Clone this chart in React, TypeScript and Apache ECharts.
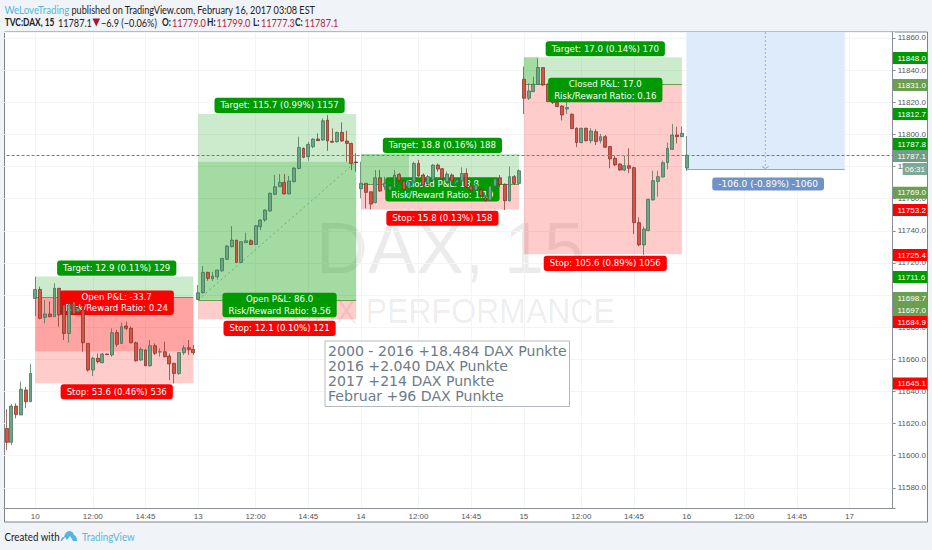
import React, { useEffect, useRef } from "react";
import * as echarts from "echarts";

const barCount = 186;
const tickBars = [6, 18, 29, 40, 52, 63, 74, 86, 97, 108, 120, 131, 142, 154, 165, 176];
const tickLabels = ["10", "12:00", "14:45", "13", "12:00", "14:45", "14", "12:00", "14:45", "15", "12:00", "14:45", "16", "12:00", "14:45", "17"];

// open, close, low, high
const candles: number[][] = [
  [11617.0,11608.3,11603.5,11629.0],[11608.3,11630.9,11606.6,11632.2],[11630.9,11625.7,11623.2,11632.6],[11625.3,11641.3,11625.3,11646.1],
  [11640.9,11633.6,11629.5,11642.9],[11633.6,11651.2,11633.6,11657.1],[11697.9,11703.5,11686.9,11711.4],[11703.5,11685.5,11684.9,11705.2],
  [11686.1,11688.2,11682.4,11696.9],[11688.2,11686.5,11686.1,11695.9],[11686.5,11704.2,11686.5,11707.3],[11704.2,11687.6,11680.3,11704.2],
  [11693.8,11676.1,11672.0,11696.9],[11676.1,11693.8,11670.3,11695.9],[11695.9,11688.2,11687.6,11697.3],[11689.6,11691.7,11689.0,11693.8],
  [11690.7,11670.3,11664.7,11694.8],[11669.9,11653.3,11652.3,11669.9],[11653.3,11660.6,11649.6,11661.6],[11660.6,11658.5,11657.5,11663.7],
  [11657.9,11663.3,11657.5,11664.1],[11663.3,11662.9,11662.7,11663.5],[11662.7,11676.6,11661.6,11679.3],[11676.6,11669.3,11667.8,11678.2],
  [11669.9,11680.3,11669.5,11682.8],[11680.7,11679.3,11678.2,11683.4],[11679.3,11670.3,11669.9,11680.3],[11670.3,11659.1,11658.5,11671.0],
  [11659.5,11666.2,11659.1,11667.4],[11665.8,11656.0,11655.8,11666.2],[11656.0,11668.5,11655.4,11672.0],[11668.5,11663.7,11662.7,11669.9],
  [11664.5,11664.7,11661.6,11666.8],[11664.7,11661.6,11661.2,11671.0],[11662.0,11657.1,11647.1,11663.7],[11657.5,11651.2,11645.0,11657.9],
  [11651.2,11664.3,11650.2,11664.3],[11664.1,11667.2,11662.7,11668.9],[11667.2,11666.2,11662.7,11672.0],[11666.2,11664.1,11662.7,11668.9],
  [11697.3,11701.4,11696.9,11706.2],[11701.4,11714.1,11701.0,11718.0],[11714.1,11710.4,11708.9,11714.5],[11710.2,11711.8,11708.9,11714.5],
  [11711.4,11715.6,11709.7,11715.6],[11715.1,11722.8,11714.5,11722.8],[11722.2,11730.5,11721.8,11731.1],[11730.1,11734.2,11729.7,11742.9],
  [11734.2,11720.3,11720.3,11734.2],[11720.3,11733.2,11720.1,11733.2],[11732.6,11733.8,11732.6,11738.8],[11733.8,11731.5,11731.1,11734.6],
  [11731.5,11743.1,11731.3,11743.6],[11742.5,11746.7,11740.4,11747.1],[11746.7,11752.9,11745.6,11753.3],[11752.3,11763.3,11751.9,11763.7],
  [11762.7,11767.4,11762.2,11774.7],[11767.4,11770.1,11767.4,11775.3],[11770.1,11762.9,11762.7,11775.3],[11762.9,11771.0,11762.7,11774.1],
  [11770.5,11779.0,11770.3,11779.5],[11778.8,11791.9,11778.2,11798.6],[11791.3,11785.7,11785.1,11791.9],[11786.1,11793.8,11783.6,11795.4],
  [11792.3,11797.1,11791.3,11797.5],[11797.1,11796.1,11795.9,11800.6],[11796.5,11808.5,11796.1,11810.0],[11808.9,11795.9,11789.8,11812.0],
  [11795.7,11795.1,11794.9,11803.7],[11795.4,11801.2,11794.9,11801.7],[11801.2,11795.9,11795.4,11807.5],[11795.9,11794.4,11783.0,11802.3],
  [11794.4,11781.9,11777.8,11794.8],[11782.8,11782.4,11776.8,11788.2],
  [11766.2,11769.5,11760.2,11783.0],[11769.5,11763.9,11753.9,11769.5],[11764.3,11756.6,11753.3,11764.3],[11757.5,11773.0,11757.1,11777.8],
  [11773.0,11764.7,11764.3,11777.8],[11767.4,11769.5,11765.3,11773.6],[11765.4,11767.8,11764.3,11771.6],[11767.0,11774.7,11766.4,11777.8],
  [11775.1,11771.2,11770.5,11776.1],[11771.0,11765.8,11764.3,11771.6],[11766.4,11770.5,11765.4,11771.6],[11770.5,11781.9,11769.5,11783.0],
  [11781.9,11774.1,11773.7,11784.0],[11774.7,11768.5,11767.4,11775.7],[11769.5,11773.7,11768.5,11774.7],[11771.6,11780.9,11771.2,11781.5],
  [11780.9,11778.4,11776.8,11781.9],[11778.6,11772.6,11772.0,11779.0],[11770.5,11775.3,11769.9,11776.8],[11774.7,11771.0,11768.5,11775.7],
  [11770.1,11771.6,11768.5,11772.6],[11771.0,11775.7,11770.5,11779.5],[11775.7,11767.4,11766.4,11778.8],[11767.8,11765.4,11764.3,11769.5],
  [11765.4,11768.5,11763.3,11770.5],[11765.4,11761.8,11761.2,11766.4],[11760.6,11758.7,11758.1,11762.2],[11759.1,11767.8,11758.7,11768.5],
  [11767.8,11772.2,11765.4,11772.6],[11773.0,11768.9,11767.4,11774.7],[11768.9,11758.7,11752.9,11769.5],[11758.7,11773.7,11758.1,11779.9],
  [11773.7,11769.5,11768.5,11774.7],[11769.5,11777.4,11768.9,11778.2],
  [11834.3,11822.5,11812.7,11842.2],[11822.5,11827.0,11821.4,11831.8],[11826.6,11831.2,11826.4,11835.9],[11831.2,11841.6,11830.8,11847.4],
  [11841.6,11830.8,11830.1,11841.6],[11831.2,11820.4,11820.2,11831.8],[11822.5,11819.8,11818.9,11823.5],[11819.8,11817.3,11816.9,11820.4],
  [11817.7,11812.1,11808.6,11818.1],[11815.8,11816.7,11812.7,11820.4],[11812.5,11803.6,11803.2,11813.1],[11803.8,11794.9,11792.0,11804.4],
  [11794.9,11803.8,11794.4,11804.2],[11803.8,11796.1,11795.5,11804.2],[11796.1,11802.1,11794.4,11803.8],[11801.7,11795.5,11793.4,11803.2],
  [11796.1,11798.6,11794.4,11800.3],[11798.6,11792.0,11791.5,11799.6],[11792.4,11784.7,11778.9,11792.8],[11785.1,11781.0,11780.3,11786.6],
  [11781.6,11777.8,11777.4,11782.0],[11777.8,11780.5,11777.0,11786.6],[11780.5,11778.9,11775.8,11791.3],[11779.3,11745.1,11738.0,11779.9],
  [11745.1,11731.2,11730.5,11748.4],[11731.2,11741.1,11724.9,11742.6],[11740.1,11759.6,11739.7,11760.0],[11759.2,11771.2,11758.7,11777.4],
  [11770.6,11773.7,11761.2,11777.4],[11773.5,11782.4,11773.1,11783.7],[11782.4,11791.3,11778.3,11794.9],[11790.7,11799.6,11790.3,11806.5],
  [11799.6,11798.6,11794.4,11804.8],[11798.6,11800.7,11798.2,11804.8],[11779.0,11787.1,11777.3,11799.0],
];

const boxStart = [6, 40, 74, 108];
const boxEnd = [39, 73, 107, 141];
const boxEntry = [11698.7, 11697.0, 11769.0, 11831.0];
const boxTarget = [11711.6, 11812.7, 11787.8, 11848.0];
const boxStop = [11645.1, 11684.9, 11753.2, 11725.4];
const boxPnl = [11665.0, 11783.0, 11787.8, 11848.0];
const boxPnlEnd = [39, 73, 84, 111];

const targetTexts = ["Target: 12.9 (0.11%) 129", "Target: 115.7 (0.99%) 1157", "Target: 18.8 (0.16%) 188", "Target: 17.0 (0.14%) 170"];
const stopTexts = ["Stop: 53.6 (0.46%) 536", "Stop: 12.1 (0.10%) 121", "Stop: 15.8 (0.13%) 158", "Stop: 105.6 (0.89%) 1056"];
const pnlTexts = [
  "Open P&L: -33.7\nRisk/Reward Ratio: 0.24",
  "Open P&L: 86.0\nRisk/Reward Ratio: 9.56",
  "Closed P&L: 18.8\nRisk/Reward Ratio: 1.19",
  "Closed P&L: 17.0\nRisk/Reward Ratio: 0.16",
];
const labelBar = [23, 57, 91, 125];
const targetLabelPrice = [11716.8, 11818.1, 11793.1, 11853.3];
const stopLabelPrice = [11639.8, 11679.3, 11747.8, 11719.7];
const pnlLabelPrice = [11695.2, 11693.8, 11765.8, 11827.6];

const lastPrice = 11787.1;
const forecastStart = 142;
const forecastEnd = 175;
const forecastBottom = 11778.3;
const forecastText = "-106.0 (-0.89%) -1060";

const priceTagText = ["11848.0", "11831.0", "11812.7", "11787.8", "11787.1", "11769.0", "11753.2", "11725.4", "11711.6", "11698.7", "11697.0", "11684.9", "11645.1"];
const priceTagY = [58, 85, 114, 144, 156, 192.7, 210, 255, 277, 298, 310, 322, 383.5];
const GREEN = "#009900";
const OLIVE = "#6a9e50";
const RED = "#ff0000";
const priceTagColor = [GREEN, OLIVE, GREEN, GREEN, "#6f9d86", OLIVE, RED, RED, GREEN, OLIVE, OLIVE, RED, RED];

const noteLines = ["2000 - 2016 +18.484 DAX Punkte", "2016 +2.040 DAX Punkte", "2017 +214 DAX Punkte", "Februar +96 DAX Punkte"];

const quoteParts: [string, number, string, boolean][] = [
  ["TVC:DAX, 15", 4.7, "#222222", true],
  ["11787.1", 58, "#222222", false],
  ["\u22126.9 (\u22120.06%)", 101, "#222222", false],
  ["O:", 162, "#222222", true],
  ["11779.0", 172, "#b3243c", false],
  ["H:", 207, "#222222", true],
  ["11799.0", 216.5, "#b3243c", false],
  ["L:", 253, "#222222", true],
  ["11777.3", 261, "#b3243c", false],
  ["C:", 295, "#222222", true],
  ["11787.1", 304.5, "#b3243c", false],
];

echarts.graphic.registerShape(
  "tvlogo",
  echarts.graphic.extendPath("M0 11 Q0 7 3 7 Q4 2 8 1 Q12 1 13 5 Q16 6 16 11 L12 11 L9 6 L6 10 L4 7 L1 11 Z", {})
);

const ticksSet = new Set(tickBars);
const categories = Array.from({ length: barCount }, (_, i) => {
  const k = tickBars.indexOf(i);
  return k >= 0 ? tickLabels[k] : "";
});
const showTick = (i: number) => ticksSet.has(i);

const PROFIT = "rgba(0,155,0,0.2)";
const LOSS = "rgba(255,0,0,0.2)";

function area(x0: number, x1: number, y0: number, y1: number, color: string) {
  return [{ xAxis: x0, yAxis: y0, itemStyle: { color } }, { xAxis: x1, yAxis: y1 }];
}
function tag(x: number, y: number, text: string, color: string, two = false) {
  return {
    coord: [x, y],
    symbol: "rect",
    symbolSize: 0,
    label: {
      show: true,
      position: "inside",
      formatter: text,
      color: "#ffffff",
      fontFamily: "DejaVu Sans",
      fontSize: 8.6,
      lineHeight: 11.2,
      backgroundColor: color,
      borderRadius: 3,
      padding: two ? [1, 6, 1, 6] : [2, 6, 2, 6],
      align: "center",
      verticalAlign: "middle",
    },
  };
}

const zones: any[] = [];
const entryLines: any[] = [];
boxStart.forEach((s, i) => {
  const e = boxEnd[i];
  zones.push(area(s, e, boxEntry[i], boxTarget[i], PROFIT));
  zones.push(area(s, e, boxEntry[i], boxStop[i], LOSS));
  zones.push(area(s, boxPnlEnd[i], boxEntry[i], boxPnl[i], boxPnl[i] > boxEntry[i] ? PROFIT : LOSS));
  entryLines.push([{ coord: [s, boxEntry[i]] }, { coord: [e, boxEntry[i]] }]);
});
zones.push(area(forecastStart, forecastEnd, 11863.73, forecastBottom, "#ddebfb"));

const lowTags = [0, 2].map((i) => tag(labelBar[i], pnlLabelPrice[i], pnlTexts[i], i === 0 ? RED : GREEN, true));
const highTags = [
  ...boxStart.map((_, i) => tag(labelBar[i], targetLabelPrice[i], targetTexts[i], GREEN)),
  ...boxStart.map((_, i) => tag(labelBar[i], stopLabelPrice[i], stopTexts[i], RED)),
  tag(labelBar[1], pnlLabelPrice[1], pnlTexts[1], GREEN, true),
  tag(labelBar[3], pnlLabelPrice[3], pnlTexts[3], GREEN, true),
];

const HEAD_SCALE = 0.87;

function buildGraphics() {
  const g: any[] = [];
  g.push({ type: "rect", z: -10, shape: { x: 4.5, y: 32, width: 923, height: 490 }, style: { fill: "#ffffff", stroke: "#7d8288", lineWidth: 1 } });
  g.push({ type: "text", z: -5, x: 316, y: 212, style: { text: "DAX, 15", font: "72px 'Liberation Sans'", fill: "rgba(0,0,0,0.08)" } });
  g.push({ type: "text", z: -5, x: 291, y: 292, scaleX: 0.89, style: { text: "DAX PERFORMANCE", font: "36px 'Liberation Sans'", fill: "rgba(0,0,0,0.08)" } });

  // header
  g.push({ type: "text", x: 4.5, y: 4, scaleX: 0.93, style: { text: "WeLoveTrading", font: "10.5px Lato", fill: "#53b8dc" } });
  g.push({ type: "text", x: 71.5, y: 4, scaleX: HEAD_SCALE, style: { text: "published on TradingView.com, February 16, 2017 03:08 EST", font: "10.5px Lato", fill: "#222222" } });
  quoteParts.forEach(([t, x, c, b]) => {
    g.push({ type: "text", x, y: 17, scaleX: b ? 0.8 : HEAD_SCALE, style: { text: t, font: `${b ? "bold " : ""}10.5px Lato`, fill: c } });
  });
  g.push({ type: "polygon", shape: { points: [[92.5, 18.5], [100, 18.5], [96.25, 26.5]] }, style: { fill: "#a8192e" } });

  // forecast measure
  g.push({ type: "line", z: 6, shape: { x1: 765.3, y1: 32, x2: 765.3, y2: 168 }, style: { stroke: "#9fb2c4", lineWidth: 1, lineDash: [2, 2] } });
  g.push({ type: "polyline", z: 6, shape: { points: [[762, 166.5], [765.3, 168.5], [768.6, 166.5]] }, style: { stroke: "#9aa7b3", fill: null, lineWidth: 1 } });

  // note
  g.push({ type: "rect", z: 8, shape: { x: 325, y: 341, width: 244.5, height: 65.5 }, style: { fill: "rgba(255,255,255,0.85)", stroke: "#b4bac0", lineWidth: 1 } });
  noteLines.forEach((t, i) => {
    g.push({ type: "text", z: 9, x: 328, y: 351 + i * 15, style: { text: t, font: "14.1px 'DejaVu Sans'", fill: "#6d7b88", textVerticalAlign: "middle" } });
  });

  // price tags
  priceTagText.forEach((t, i) => {
    g.push({ type: "rect", z: 10, shape: { x: 893, y: priceTagY[i] - 6, width: 34.3, height: 12 }, style: { fill: priceTagColor[i] } });
    g.push({ type: "text", z: 11, x: 897.5, y: priceTagY[i], style: { text: t, font: "8px 'Liberation Sans'", fill: "#ffffff", textVerticalAlign: "middle" } });
  });
  g.push({ type: "rect", z: 10, shape: { x: 902.7, y: 163, width: 24.6, height: 12 }, style: { fill: "#7fa896" } });
  g.push({ type: "text", z: 11, x: 905, y: 169, style: { text: "06:31", font: "8px 'Liberation Sans'", fill: "#ffffff", textVerticalAlign: "middle" } });

  // footer
  g.push({ type: "text", x: 4.5, y: 531, scaleX: 0.93, style: { text: "Created with", font: "10.5px Lato", fill: "#222222" } });
  g.push({ type: "tvlogo", x: 61, y: 530, style: { fill: "#56b4e0" } });
  g.push({ type: "text", x: 82, y: 531, scaleX: 0.93, style: { text: "TradingView", font: "10.5px Lato", fill: "#5bb6dc" } });
  return g;
}

export default function App() {
  const ref = useRef<HTMLDivElement>(null);
  useEffect(() => {
    const chart = echarts.init(ref.current!, undefined, { renderer: "svg" });
    chart.setOption({
      animation: false,
      backgroundColor: "transparent",
      textStyle: { fontFamily: "Liberation Sans" },
      graphic: { elements: buildGraphics() },
      grid: { left: 4.16, top: 32, width: 890.9, height: 476, containLabel: false },
      xAxis: {
        type: "category",
        data: categories,
        boundaryGap: true,
        axisLine: { lineStyle: { color: "#8a8f94", width: 1 } },
        axisTick: { interval: (i: number) => showTick(i), alignWithLabel: true, length: 2, lineStyle: { color: "#8a8f94" } },
        axisLabel: { interval: (i: number) => showTick(i), color: "#555555", fontSize: 8, margin: 4, hideOverlap: false },
        splitLine: { show: true, interval: (i: number) => showTick(i), alignWithLabel: true, lineStyle: { color: "#f3f4f5", width: 1 } },
      },
      yAxis: {
        type: "value",
        position: "right",
        offset: -2.4,
        min: 11567.44,
        max: 11863.73,
        splitNumber: 15,
        scale: true,
        axisLine: { show: true, lineStyle: { color: "#8a8f94", width: 1 } },
        axisTick: { show: true, length: 3, lineStyle: { color: "#8a8f94" } },
        axisLabel: { color: "#555555", fontSize: 8, margin: 5, showMinLabel: false, showMaxLabel: false, formatter: (v: number) => v.toFixed(1) },
        splitLine: { show: true, lineStyle: { color: "#f3f4f5", width: 1 } },
      },
      series: [
        {
          type: "line",
          name: "zones",
          data: [],
          z: 1,
          silent: true,
          markArea: { z: 1, silent: true, data: zones },
          markPoint: { z: 2, silent: true, data: lowTags },
          markLine: {
            z: 2,
            silent: true,
            symbol: "none",
            label: { show: false },
            lineStyle: { type: "solid", color: "#6f9a4e", width: 1 },
            data: [
              ...entryLines,
              [
                { coord: [boxStart[1], boxEntry[1]], lineStyle: { type: [2, 3], color: "rgba(40,120,50,0.45)", width: 1 } },
                { coord: [boxPnlEnd[1], boxPnl[1]] },
              ],
              [
                { coord: [forecastStart, forecastBottom], lineStyle: { type: "solid", color: "#9aa7b3", width: 1 } },
                { coord: [forecastEnd, forecastBottom] },
              ],
            ],
          },
        },
        {
          type: "candlestick",
          name: "DAX",
          z: 3,
          silent: true,
          barWidth: 3.4,
          data: candles,
          itemStyle: { color: "#6ba583", color0: "#d75442", borderColor: "#3a6b50", borderColor0: "#7a2f25", borderWidth: 0.7 },
        },
        {
          type: "line",
          name: "labels",
          data: [],
          z: 5,
          silent: true,
          markLine: {
            z: 4,
            silent: true,
            symbol: "none",
            label: { show: false },
            data: [
              [
                { coord: [0, lastPrice], lineStyle: { type: [3, 2], color: "#3f9a70", width: 1, opacity: 1 } },
                { coord: [barCount - 1, lastPrice] },
              ],
            ],
          },
          markPoint: {
            z: 6,
            silent: true,
            data: [
              ...highTags,
              {
                coord: [159, 11769.1],
                symbol: "rect",
                symbolSize: 0,
                label: {
                  show: true,
                  position: "inside",
                  formatter: forecastText,
                  color: "#ffffff",
                  fontFamily: "DejaVu Sans",
                  fontSize: 9,
                  backgroundColor: "#6f93c6",
                  borderRadius: 3,
                  padding: [2, 6, 2, 6],
                },
              },
            ],
          },
        },
      ],
    });
    return () => chart.dispose();
  }, []);
  return (
    <div style={{ position: "fixed", left: 0, top: 0, width: 932, height: 550, background: "#f0f3f7" }}>
      <div ref={ref} style={{ width: 932, height: 550 }} />
    </div>
  );
}
